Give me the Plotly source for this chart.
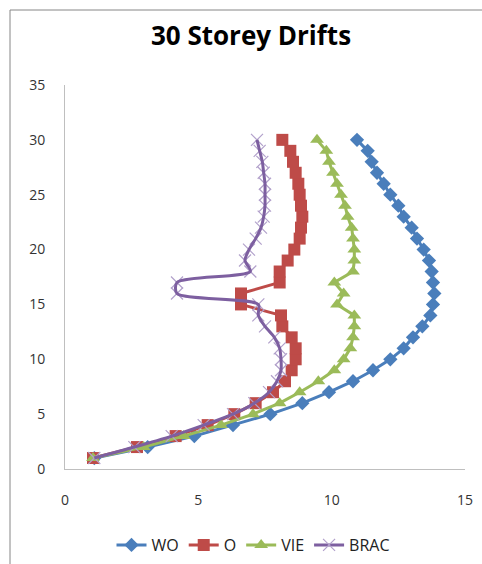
import plotly.graph_objects as go

# Storey numbers (1 = ground level, 30 = roof)
storeys = list(range(1, 31))

# Inter-storey drift per series, storey 1 .. 30
wo = [1.1, 3.1, 4.85, 6.3, 7.7, 8.9, 9.9, 10.8, 11.55, 12.2,
      12.7, 13.05, 13.4, 13.7, 13.8, 13.85, 13.8, 13.75, 13.65, 13.45,
      13.2, 13.0, 12.7, 12.5, 12.2, 11.95, 11.7, 11.5, 11.35, 10.95]
o = [1.05, 2.7, 4.15, 5.35, 6.35, 7.15, 7.8, 8.25, 8.5, 8.65,
     8.65, 8.5, 8.15, 8.1, 6.6, 6.6, 8.05, 8.05, 8.35, 8.6,
     8.8, 8.85, 8.9, 8.85, 8.8, 8.75, 8.65, 8.55, 8.45, 8.15]
vie = [1.05, 2.95, 4.45, 5.85, 7.05, 8.05, 8.8, 9.5, 10.1, 10.45,
       10.7, 10.8, 10.85, 10.85, 10.2, 10.45, 10.1, 10.8, 10.85, 10.85,
       10.8, 10.75, 10.6, 10.5, 10.35, 10.2, 10.05, 9.9, 9.8, 9.45]
brac = [1.1, 2.6, 4.0, 5.2, 6.3, 7.1, 7.65, 7.95, 8.1, 8.1,
        8.05, 7.85, 7.5, 7.25, 7.25, 4.2, 4.2, 6.95, 6.75, 6.9,
        7.15, 7.35, 7.45, 7.5, 7.5, 7.5, 7.45, 7.4, 7.3, 7.2]

x_ticks = [0, 5, 10, 15]
y_ticks = [0, 5, 10, 15, 20, 25, 30, 35]

BLUE = "#4A7EBB"
RED = "#BE4B48"
GREEN = "#9BBB59"
PURPLE = "#7D5FA0"
PURPLE_LIGHT = "#B2A1CB"

FONT = "Open Sans, Lato, sans-serif"

fig = go.Figure()

fig.add_trace(go.Scatter(
    x=wo, y=storeys, name="WO", mode="lines+markers",
    line=dict(color=BLUE, width=3),
    marker=dict(symbol="diamond", size=11, color=BLUE),
))
fig.add_trace(go.Scatter(
    x=o, y=storeys, name="O", mode="lines+markers",
    line=dict(color=RED, width=3),
    marker=dict(symbol="square", size=12, color=RED),
))
fig.add_trace(go.Scatter(
    x=vie, y=storeys, name="VIE", mode="lines+markers",
    line=dict(color=GREEN, width=3),
    marker=dict(symbol="triangle-up", size=12, color=GREEN),
))
# BRAC: thin cross markers beneath a smoothed line
fig.add_trace(go.Scatter(
    x=brac, y=storeys, name="BRAC", mode="markers", showlegend=False,
    marker=dict(symbol="x-thin", size=12, color=PURPLE_LIGHT,
                line=dict(color=PURPLE_LIGHT, width=1.2)),
))
fig.add_trace(go.Scatter(
    x=brac, y=storeys, name="BRAC", mode="lines", showlegend=False,
    line=dict(color=PURPLE, width=3, shape="spline", smoothing=0.8),
))
fig.add_trace(go.Scatter(
    x=[None], y=[None], name="BRAC", mode="lines+markers",
    line=dict(color=PURPLE, width=3),
    marker=dict(symbol="x-thin", size=12, color=PURPLE_LIGHT,
                line=dict(color=PURPLE_LIGHT, width=1.2)),
))

axis_font = dict(family=FONT, size=14, color="#333333")

fig.update_layout(
    width=482, height=564,
    margin=dict(l=65, r=17, t=85, b=95, autoexpand=False),
    paper_bgcolor="white", plot_bgcolor="white",
    title=dict(
        text="<b>30 Storey Drifts</b>",
        font=dict(family=FONT, size=26, color="black"),
        x=(251 - 65) / 400, xref="paper", xanchor="center",
        y=1 - 36 / 564, yref="container", yanchor="middle",
    ),
    xaxis=dict(
        range=[0, 15], tickvals=x_ticks, showgrid=False, zeroline=False,
        showline=True, linecolor="#BFBFBF", linewidth=1,
        ticks="", tickfont=axis_font, ticklabelstandoff=18,
    ),
    yaxis=dict(
        range=[0, 35], tickvals=y_ticks, showgrid=False, zeroline=False,
        showline=True, linecolor="#BFBFBF", linewidth=1,
        ticks="", tickfont=axis_font, ticklabelstandoff=16,
    ),
    legend=dict(
        orientation="h", x=(253 - 65) / 400, xanchor="center",
        yref="container", y=1 - 545 / 564, yanchor="middle",
        font=dict(family=FONT, size=16, color="#222222"),
        itemwidth=30,
    ),
    shapes=[dict(
        type="rect", xref="paper", yref="paper",
        x0=(10 - 65) / 400, x1=(492 - 65) / 400,
        y0=(469 - 575) / 384, y1=(469 - 10) / 384,
        line=dict(color="#868686", width=1), fillcolor="rgba(0,0,0,0)",
        layer="below",
    )],
)

fig.write_html("out.html")
